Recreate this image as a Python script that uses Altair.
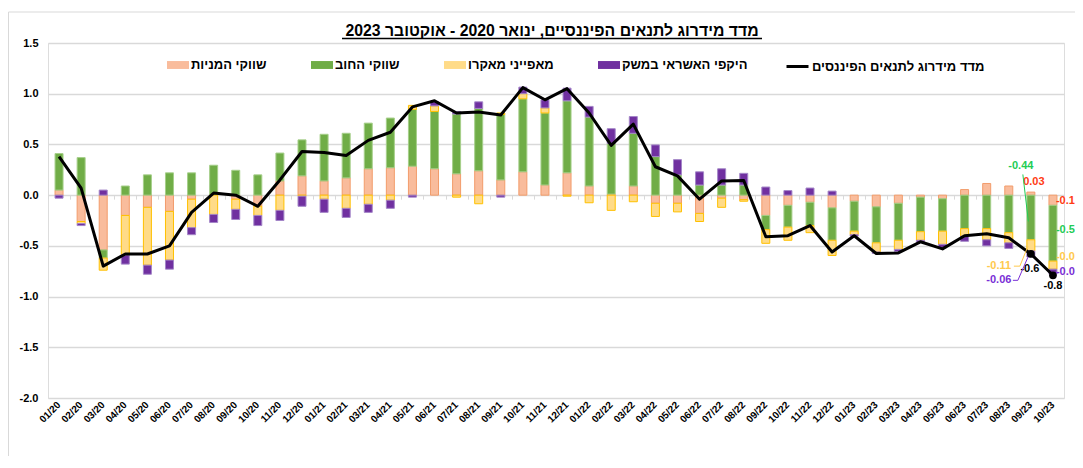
import altair as alt
import pandas as pd

months = ["01/20", "02/20", "03/20", "04/20", "05/20", "06/20", "07/20", "08/20", "09/20", "10/20", "11/20", "12/20",
          "01/21", "02/21", "03/21", "04/21", "05/21", "06/21", "07/21", "08/21", "09/21", "10/21", "11/21", "12/21",
          "01/22", "02/22", "03/22", "04/22", "05/22", "06/22", "07/22", "08/22", "09/22", "10/22", "11/22", "12/22",
          "01/23", "02/23", "03/23", "04/23", "05/23", "06/23", "07/23", "08/23", "09/23", "10/23"]

equity = [0.05, -0.26, -0.54, -0.20, -0.12, -0.16, -0.04, 0.0, -0.04, -0.11, 0.14, 0.19,
          0.14, 0.17, 0.26, 0.27, 0.285, 0.26, 0.21, 0.24, 0.15, 0.23, 0.10, 0.22,
          0.09, 0.01, 0.09, -0.08, -0.08, -0.18, -0.03, -0.045, -0.20, -0.10, -0.07, -0.125,
          -0.06, -0.115, -0.08, -0.02, -0.035, 0.055, 0.115, 0.09, 0.03, -0.10]
debt = [0.36, 0.37, -0.08, 0.09, 0.20, 0.22, 0.22, 0.295, 0.245, 0.20, 0.275, 0.355,
        0.46, 0.44, 0.45, 0.49, 0.56, 0.565, 0.59, 0.615, 0.645, 0.72, 0.71, 0.71,
        0.68, 0.50, 0.52, 0.38, 0.20, 0.10, 0.10, 0.10, -0.14, -0.215, -0.23, -0.32,
        -0.295, -0.355, -0.365, -0.34, -0.32, -0.33, -0.33, -0.37, -0.44, -0.55]
macro = [0.0, -0.02, -0.12, -0.39, -0.57, -0.48, -0.28, -0.19, -0.10, -0.09, -0.15, -0.01,
         -0.04, -0.13, -0.09, -0.05, 0.04, 0.055, -0.02, -0.085, 0.015, 0.05, 0.05, -0.01,
         -0.075, -0.15, -0.065, -0.13, -0.085, -0.08, -0.09, -0.015, -0.135, -0.13, -0.07, -0.15,
         -0.035, -0.09, -0.09, -0.085, -0.13, -0.075, -0.11, -0.10, -0.11, -0.08]
credit = [-0.03, -0.02, 0.05, -0.09, -0.09, -0.09, -0.07, -0.08, -0.10, -0.10, -0.10, -0.10,
          -0.13, -0.09, -0.08, -0.08, -0.02, 0.04, 0.025, 0.065, -0.02, 0.065, 0.08, 0.125,
          0.105, 0.145, 0.165, 0.115, 0.15, 0.13, 0.16, 0.115, 0.08, 0.045, 0.07, 0.04,
          -0.015, -0.015, -0.02, -0.02, -0.035, -0.05, -0.06, -0.055, -0.06, -0.05]
index_vals = [0.38, 0.07, -0.70, -0.58, -0.58, -0.50, -0.17, 0.02, 0.00, -0.11, 0.15, 0.43,
              0.42, 0.39, 0.54, 0.62, 0.87, 0.93, 0.81, 0.82, 0.79, 1.06, 0.94, 1.05,
              0.81, 0.49, 0.70, 0.28, 0.19, -0.04, 0.14, 0.145, -0.41, -0.40, -0.30, -0.56,
              -0.40, -0.575, -0.57, -0.46, -0.53, -0.40, -0.38, -0.42, -0.58, -0.79]

series_names = ["שווקי המניות", "שווקי החוב", "מאפייני מאקרו", "היקפי האשראי במשק"]
line_name = "מדד מידרוג לתנאים הפיננסים"
title_text = "מדד מידרוג לתנאים הפיננסיים, ינואר 2020 - אוקטובר 2023"
y_ticks = [-2.0, -1.5, -1.0, -0.5, 0.0, 0.5, 1.0, 1.5]

# ---- style / layout ----
FONT = "Arial, Liberation Sans, DejaVu Sans, sans-serif"
FILLS = ["#F9BC9C", "#70AD47", "#FFDB88", "#7030A0"]
STROKES = ["#F29C6B", "#A6CF8A", "#FFC000", "#A486C8"]
GREEN_T, RED_T, YEL_T, PUR_T = "#22CC55", "#FF3B14", "#FFC94D", "#7A2FD6"
GRID = "#D9D9D9"
W, H = 1016, 355
PAD = {"left": 40, "top": 35, "right": 11, "bottom": 58}
Y_MIN, Y_MAX = -2.0, 1.5
N = len(months)


def px(i, dx=0.0):
    return (i + 0.5) * W / N + dx


def py(v):
    return H * (Y_MAX - v) / (Y_MAX - Y_MIN)


# ---- data tables ----
rows = []
for k, (name, vals) in enumerate(zip(series_names, [equity, debt, macro, credit])):
    for m, v in zip(months, vals):
        if v != 0:
            rows.append({"month": m, "series": name, "value": v, "ord": k})
df_bars = pd.DataFrame(rows)
df_line = pd.DataFrame({"month": months, "value": index_vals, "name": line_name})

xscale = alt.Scale(domain=months, paddingInner=0, paddingOuter=0)
yscale = alt.Scale(domain=[Y_MIN, Y_MAX], nice=False, zero=False)

x_main = alt.X("month:N", sort=months, scale=xscale, title=None,
               axis=alt.Axis(labelAngle=-45, labelAlign="right", labelBaseline="middle",
                             labelFontSize=10, labelFontWeight="bold", labelColor="#000000",
                             labelFont=FONT, labelPadding=5, ticks=False, domain=False,
                             grid=False, labelOverlap=False))
x_ticks = alt.X("month:N", sort=months, scale=xscale, title=None,
                axis=alt.Axis(orient="bottom", offset=-(H - py(0)), labels=False, ticks=True,
                              tickBand="extent", tickSize=4, tickColor=GRID, tickWidth=1,
                              domain=False, grid=False))
x_none = alt.X("month:N", sort=months, scale=xscale, axis=None)

y_main = alt.Y("value:Q", stack="zero", scale=yscale, title=None,
               axis=alt.Axis(values=y_ticks,
                             labelExpr="datum.value < 0 ? '-' + format(-datum.value, '.1f') : format(datum.value, '.1f')",
                             grid=True, gridColor=GRID, gridWidth=1.3, domain=False, ticks=False,
                             labelFontSize=11, labelFontWeight="bold", labelColor="#000000",
                             labelFont=FONT, labelPadding=10))
y_none = alt.Y("value:Q", scale=yscale, axis=None)

bar_legend = alt.Legend(orient="none", legendX=119, legendY=11, direction="horizontal", title=None,
                        symbolType="M-1,-0.36H1V0.36H-1Z", symbolSize=484, symbolStrokeWidth=0,
                        labelFontSize=13, labelFontWeight="bold", labelColor="#000000", labelFont=FONT,
                        labelOffset=2, columnPadding=44, padding=0, labelLimit=400)
line_legend = alt.Legend(orient="none", legendX=737, legendY=11, title=None,
                         symbolType="stroke", symbolStrokeWidth=3, symbolSize=484,
                         labelFontSize=13, labelFontWeight="bold", labelColor="#000000", labelFont=FONT,
                         labelOffset=2, padding=0, labelLimit=400)

bars = alt.Chart(df_bars).mark_bar(size=8, strokeWidth=1).encode(
    x=x_main,
    y=y_main,
    fill=alt.Fill("series:N", scale=alt.Scale(domain=series_names, range=FILLS), legend=bar_legend),
    stroke=alt.Stroke("series:N", scale=alt.Scale(domain=series_names, range=STROKES), legend=None),
    order=alt.Order("ord:Q", sort="ascending"),
)

line = alt.Chart(df_line).mark_line(strokeWidth=3, strokeJoin="round").encode(
    x=x_ticks,
    y=y_none,
    color=alt.Color("name:N", scale=alt.Scale(domain=[line_name], range=["#000000"]), legend=line_legend),
)

points = alt.Chart(df_line.tail(2)).mark_circle(size=60, color="#000000", opacity=1).encode(
    x=x_none, y=y_none)

# ---- data labels (from the data arrays; the 10/23 ones are cut at the edge in the original) ----
i9, i10 = months.index("09/23"), months.index("10/23")
labels = [
    (f"{debt[i9]:.2f}", "09/23", 0.292, -10, GREEN_T, "center"),
    (f"{equity[i9]:.2f}", "09/23", 0.125, 3, RED_T, "center"),
    (f"{macro[i9]:.2f}", "09/23", -0.70, -32, YEL_T, "center"),
    (f"{credit[i9]:.2f}", "09/23", -0.84, -32, PUR_T, "center"),
    (f"{index_vals[i9]:.1f}", "09/23", -0.731, -1, "#000000", "center"),
    (f"{index_vals[i10]:.1f}", "10/23", -0.898, 0, "#000000", "center"),
    (f"{equity[i10]:.2f}"[:4], "10/23", -0.062, 3, RED_T, "left"),
    (f"{debt[i10]:.2f}"[:4], "10/23", -0.347, 3, GREEN_T, "left"),
    (f"{macro[i10]:.2f}"[:4], "10/23", -0.613, 3, YEL_T, "left"),
    (f"{credit[i10]:.2f}"[:4], "10/23", -0.761, 3, PUR_T, "left"),
]
one = pd.DataFrame({"a": [0]})
text_layers = []
for txt, m, pos, dx, col, al in labels:
    d = pd.DataFrame({"month": [m], "value": [pos], "label": [txt]})
    text_layers.append(
        alt.Chart(d).mark_text(align=al, baseline="middle", dx=dx, fontSize=11, fontWeight="bold",
                               font=FONT, color=col).encode(x=x_none, y=y_none, text="label:N"))

# title as a text mark above the plot
text_layers.append(
    alt.Chart(one).mark_text(text=title_text, align="center", baseline="alphabetic", fontSize=15.8,
                             fontWeight="bold", font=FONT, color="#000000").encode(
        x=alt.value(504), y=alt.value(-7)))

# ---- leader lines, frame, title underline (decorations) ----
segs = [
    (px(i9, -8), py(0.204), px(i9, -2.5), py(-0.259), GREEN_T, 1),
    (px(i9, -17), py(-0.70), px(i9, -11), py(-0.70), YEL_T, 1),
    (px(i9, -11), py(-0.70), px(i9, -3), py(-0.505), YEL_T, 1),
    (px(i9, -18), py(-0.84), px(i9, -13), py(-0.84), PUR_T, 1),
    (px(i9, -13), py(-0.84), px(i9, -3), py(-0.613), PUR_T, 1),
    (-39.5, -31, W + 20, -31, GRID, 1),
    (-39.5, -31, -39.5, H + 80, GRID, 1),
    (294, -4.5, 714, -4.5, "#000000", 1.5),
]
rule_layers = []
for x1, y1, x2, y2, col, sw in segs:
    rule_layers.append(
        alt.Chart(one).mark_rule(color=col, strokeWidth=sw).encode(
            x=alt.value(x1), y=alt.value(y1), x2=alt.value(x2), y2=alt.value(y2)))

chart = alt.layer(bars, line, points, *text_layers, *rule_layers).resolve_axis(
    x="independent", y="independent"
).properties(
    width=W, height=H, padding=PAD,
    autosize=alt.AutoSizeParams(type="none"),
).configure_view(stroke=None).configure(background="#FFFFFF")

chart.save("out.html", embed_options={"renderer": "svg", "actions": False})
